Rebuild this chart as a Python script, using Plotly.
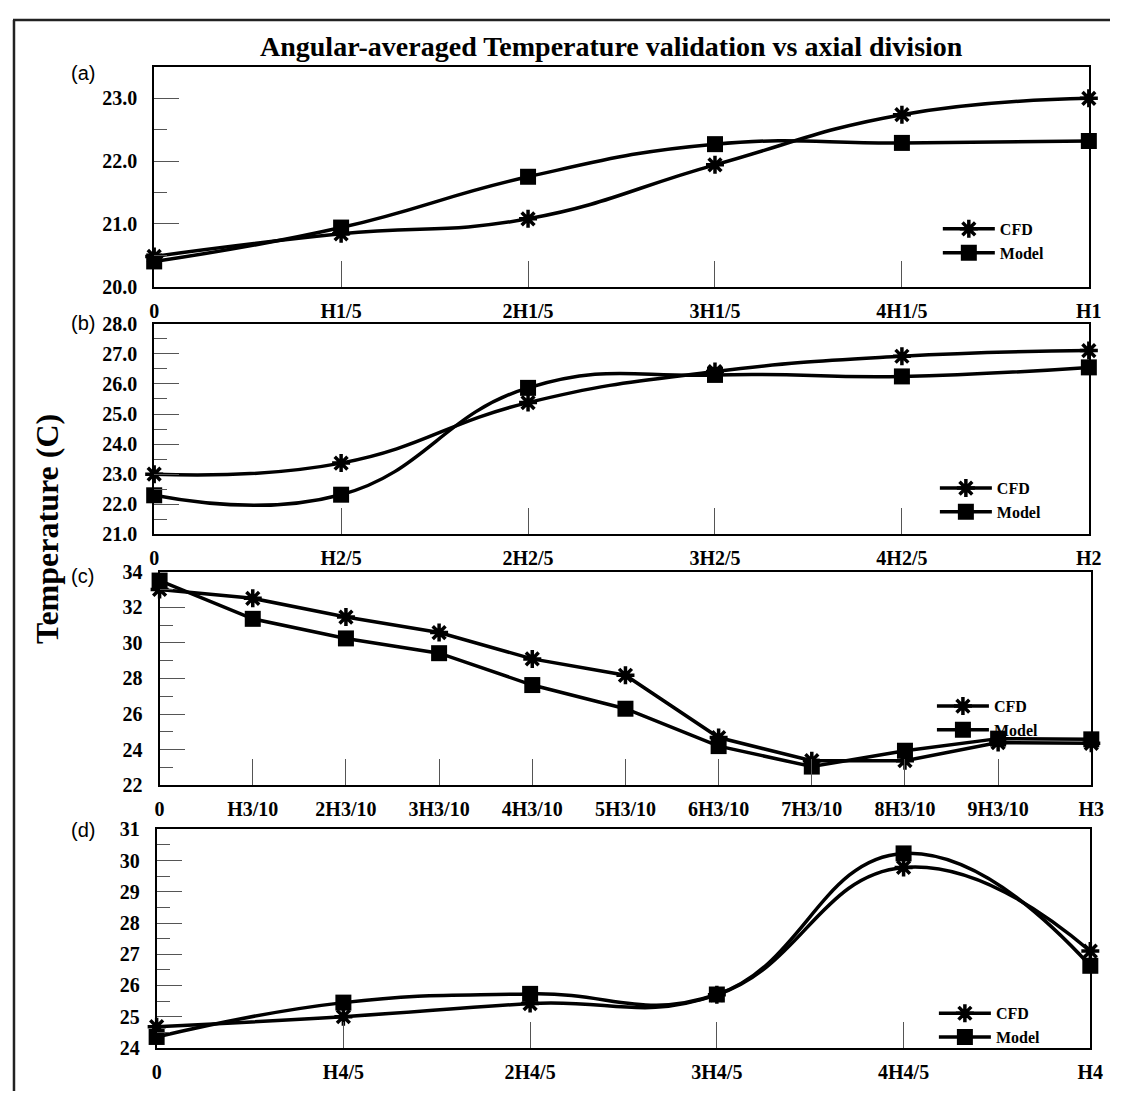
import plotly.graph_objects as go

# ---------------- data ----------------
a_labels = ["0", "H1/5", "2H1/5", "3H1/5", "4H1/5", "H1"]
a_cfd = [20.48, 20.84, 21.08, 21.94, 22.74, 23.0]
a_model = [20.40, 20.94, 21.75, 22.27, 22.29, 22.32]

b_labels = ["0", "H2/5", "2H2/5", "3H2/5", "4H2/5", "H2"]
b_cfd = [23.0, 23.37, 25.38, 26.41, 26.92, 27.11]
b_model = [22.30, 22.32, 25.87, 26.30, 26.25, 26.55]

c_labels = ["0", "H3/10", "2H3/10", "3H3/10", "4H3/10", "5H3/10",
            "6H3/10", "7H3/10", "8H3/10", "9H3/10", "H3"]
c_cfd = [33.0, 32.5, 31.45, 30.58, 29.1, 28.18, 24.68, 23.38, 23.38, 24.4, 24.36]
c_model = [33.5, 31.35, 30.25, 29.42, 27.63, 26.3, 24.2, 23.05, 23.94, 24.62, 24.58]

d_labels = ["0", "H4/5", "2H4/5", "3H4/5", "4H4/5", "H4"]
d_cfd = [24.68, 25.0, 25.42, 25.70, 29.78, 27.1]
d_model = [24.35, 25.45, 25.73, 25.71, 30.23, 26.63]

series_names = ["CFD", "Model"]
panel_tags = ["(a)", "(b)", "(c)", "(d)"]
title_text = "Angular-averaged Temperature validation vs axial division"
ytitle_text = "Temperature (C)"

# ---------------- layout helpers ----------------
# The page body keeps its default 8px margin, so the figure is sized to fit
# inside the 1131x1110 window and page pixel positions are offset by 8.
OFF = 8
W, H = 1131 - 2 * OFF, 1110 - 2 * OFF


def px(x):
    return (x - OFF) / W


def py(y):
    return 1 - (y - OFF) / H


SERIF = "Liberation Serif, Times New Roman, serif"
SANS = "Liberation Sans, Arial, sans-serif"

panels = [
    dict(labels=a_labels, cfd=a_cfd, model=a_model, shape="spline",
         xd=(151.5, 1101.5), yd=(57, 281), yr=(20, 23.5), dt=1, mdt=0.5, fmt=".1f",
         leg=(948, 234.5), tag_y=63),
    dict(labels=b_labels, cfd=b_cfd, model=b_model, shape="spline",
         xd=(151.5, 1101.5), yd=(319, 534), yr=(21, 28), dt=1, mdt=0.5, fmt=".1f",
         leg=(945, 499), tag_y=318),
    dict(labels=c_labels, cfd=c_cfd, model=c_model, shape="linear",
         xd=(157, 1104), yd=(572, 790), yr=(22, 34), dt=2, mdt=1, fmt="d",
         leg=(942, 721.5), tag_y=576),
    dict(labels=d_labels, cfd=d_cfd, model=d_model, shape="spline",
         xd=(154, 1103), yd=(835, 1058), yr=(24, 31), dt=1, mdt=0.5, fmt="d",
         leg=(944, 1035), tag_y=836),
]

fig = go.Figure()
layout = dict(
    width=W, height=H, autosize=False,
    margin=dict(l=0, r=0, t=0, b=0),
    paper_bgcolor="white", plot_bgcolor="white",
    showlegend=True,
)

annotations = []
for i, p in enumerate(panels, start=1):
    sfx = "" if i == 1 else str(i)
    xa, ya = "x" + sfx, "y" + sfx
    leg = "legend" if i == 1 else "legend" + str(i)
    for name, vals, sym, size in [("CFD", p["cfd"], "asterisk-open", 15),
                                  ("Model", p["model"], "square", 16)]:
        fig.add_trace(go.Scatter(
            x=p["labels"], y=vals, name=name, mode="lines+markers",
            xaxis=xa, yaxis=ya, legend=leg, cliponaxis=False,
            line=dict(color="black", width=3.5, shape=p["shape"], smoothing=1.3),
            marker=dict(symbol=sym, size=size, color="black",
                        line=dict(color="black", width=3.5 if sym.startswith("asterisk") else 0)),
        ))
    layout["xaxis" + sfx] = dict(
        domain=[px(p["xd"][0]), px(p["xd"][1])], anchor=ya, type="category",
        range=[0, len(p["labels"]) - 1],
        showline=True, mirror=True, linecolor="black", linewidth=2,
        ticks="inside", ticklen=26, tickwidth=1, tickcolor="#555",
        showgrid=False, zeroline=False, ticklabelstandoff=5,
        tickfont=dict(family=SERIF, size=20, color="black", weight="bold"),
    )
    layout["yaxis" + sfx] = dict(
        domain=[py(p["yd"][1]), py(p["yd"][0])], anchor=xa,
        range=list(p["yr"]), dtick=p["dt"], tick0=p["yr"][0], tickformat=p["fmt"],
        showline=True, mirror=True, linecolor="black", linewidth=2,
        ticks="inside", ticklen=25, tickwidth=1, tickcolor="#555",
        minor=dict(ticks="inside", ticklen=13, tickwidth=1, tickcolor="#555",
                   dtick=p["mdt"], tick0=p["yr"][0], showgrid=False),
        showgrid=False, zeroline=False, ticklabelstandoff=11,
        tickfont=dict(family=SERIF, size=20, color="black", weight="bold"),
    )
    layout[leg] = dict(
        x=px(p["leg"][0]), y=py(p["leg"][1]), xanchor="left", yanchor="middle",
        bgcolor="rgba(0,0,0,0)", borderwidth=0, itemwidth=52,
        font=dict(family=SERIF, size=16, color="black", weight="bold"),
        tracegroupgap=0,
    )
    annotations.append(dict(
        text=panel_tags[i - 1], x=px(79), y=py(p["tag_y"]), xref="paper", yref="paper",
        xanchor="center", yanchor="middle", showarrow=False,
        font=dict(family=SANS, size=20, color="black"),
    ))

annotations.append(dict(
    text=title_text, x=px(616), y=py(36), xref="paper", yref="paper",
    xanchor="center", yanchor="middle", showarrow=False,
    font=dict(family=SERIF, size=28, color="black", weight="bold"),
))
annotations.append(dict(
    text=ytitle_text, x=px(42), y=py(528), xref="paper", yref="paper",
    xanchor="center", yanchor="middle", showarrow=False, textangle=-90,
    font=dict(family=SERIF, size=32, color="black", weight="bold"),
))
layout["annotations"] = annotations
layout["shapes"] = [
    dict(type="line", xref="paper", yref="paper", x0=0, x1=1, y0=py(OFF + 1), y1=py(OFF + 1),
         line=dict(color="#222", width=2.5)),
    dict(type="line", xref="paper", yref="paper", x0=px(OFF + 1), x1=px(OFF + 1), y0=py(OFF + 1), y1=0,
         line=dict(color="#222", width=2.5)),
]

fig.update_layout(**layout)
fig.write_html("out.html", config={"displayModeBar": False})
